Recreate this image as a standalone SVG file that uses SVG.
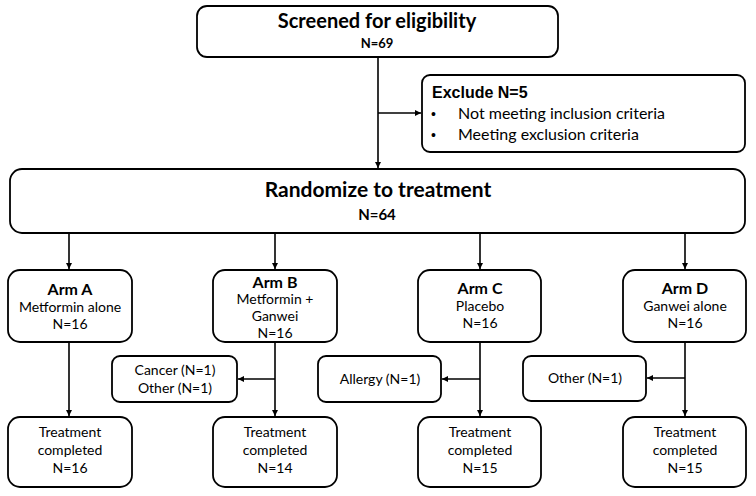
<svg xmlns="http://www.w3.org/2000/svg" width="756" height="496" viewBox="0 0 756 496">
<defs>
<marker id="ah" viewBox="0 0 10 10" refX="10" refY="5" markerWidth="6" markerHeight="6" markerUnits="userSpaceOnUse" orient="auto">
<path d="M0,0 L10,5 L0,10 z" fill="#000"/>
</marker>
<style>
.box{fill:#fff;stroke:#000;stroke-width:1.8}
.ln{fill:none;stroke:#000;stroke-width:1.6}
text{font-family:Lato,"Open Sans",sans-serif;fill:#000;text-anchor:middle}
.t{font-size:14px}
.b{font-size:16px;font-weight:bold}
.big{font-size:20px;font-weight:bold}
.n{font-size:13px;font-weight:bold}
.ar{font-family:"Liberation Sans",Arial,sans-serif;text-anchor:start}
.l{font-size:16px;text-anchor:start}
</style>
</defs>
<g id="connectors">
<path class="ln" d="M378,57 V168" marker-end="url(#ah)"/>
<path class="ln" d="M378,113 H421" marker-end="url(#ah)"/>
<path class="ln" d="M69,233 V269" marker-end="url(#ah)"/>
<path class="ln" d="M275,233 V269" marker-end="url(#ah)"/>
<path class="ln" d="M480,233 V269" marker-end="url(#ah)"/>
<path class="ln" d="M685,233 V269" marker-end="url(#ah)"/>
<path class="ln" d="M69,342 V416" marker-end="url(#ah)"/>
<path class="ln" d="M275,342 V416" marker-end="url(#ah)"/>
<path class="ln" d="M480,342 V416" marker-end="url(#ah)"/>
<path class="ln" d="M685,342 V416" marker-end="url(#ah)"/>
<path class="ln" d="M275,379 H238" marker-end="url(#ah)"/>
<path class="ln" d="M480,379 H442" marker-end="url(#ah)"/>
<path class="ln" d="M685,378 H647" marker-end="url(#ah)"/>
</g>
<g id="screened">
<rect class="box" x="197" y="6" width="361" height="51" rx="10"/>
<text class="big" x="377" y="28">Screened for eligibility</text>
<text class="n" x="377" y="48">N=69</text>
</g>
<g id="exclude">
<rect class="box" x="422" y="75" width="323" height="77" rx="8"/>
<text class="ar" x="432" y="98" font-size="16" font-weight="bold">Exclude N=5</text>
<text class="ar" x="431" y="119" font-size="14">•</text>
<text class="ar" x="431" y="140" font-size="14">•</text>
<text class="l" x="458" y="119">Not meeting inclusion criteria</text>
<text class="l" x="458" y="140">Meeting exclusion criteria</text>
</g>
<g id="randomize">
<rect class="box" x="10" y="169" width="735" height="64" rx="12"/>
<text class="big" x="378" y="197" style="font-size:21px">Randomize to treatment</text>
<text class="n" x="377" y="220" style="font-size:15px">N=64</text>
</g>
<g id="armA">
<rect class="box" x="8" y="270" width="124" height="72" rx="12"/>
<text class="b" x="70" y="295">Arm A</text>
<text class="t" x="70" y="312">Metformin alone</text>
<text class="t" x="70" y="329">N=16</text>
</g>
<g id="armB">
<rect class="box" x="213" y="270" width="124" height="72" rx="12"/>
<text class="b" x="275" y="288">Arm B</text>
<text class="t" x="275" y="304">Metformin +</text>
<text class="t" x="275" y="321">Ganwei</text>
<text class="t" x="275" y="338">N=16</text>
</g>
<g id="armC">
<rect class="box" x="418" y="270" width="123" height="72" rx="12"/>
<text class="b" x="480" y="294">Arm C</text>
<text class="t" x="480" y="311">Placebo</text>
<text class="t" x="480" y="328">N=16</text>
</g>
<g id="armD">
<rect class="box" x="623" y="270" width="123" height="72" rx="12"/>
<text class="b" x="685" y="294">Arm D</text>
<text class="t" x="685" y="311">Ganwei alone</text>
<text class="t" x="685" y="328">N=16</text>
</g>
<g id="excludeB">
<rect class="box" x="112" y="356" width="125" height="46" rx="8"/>
<text class="t" x="175" y="375">Cancer (N=1)</text>
<text class="t" x="175" y="393">Other (N=1)</text>
</g>
<g id="excludeC">
<rect class="box" x="318" y="356" width="123" height="46" rx="8"/>
<text class="t" x="380" y="384">Allergy (N=1)</text>
</g>
<g id="excludeD">
<rect class="box" x="523" y="356" width="123" height="45" rx="8"/>
<text class="t" x="585" y="383">Other (N=1)</text>
</g>
<g id="doneA">
<rect class="box" x="8" y="417" width="124" height="70" rx="12"/>
<text class="t" x="70" y="437">Treatment</text>
<text class="t" x="70" y="455">completed</text>
<text class="t" x="70" y="473">N=16</text>
</g>
<g id="doneB">
<rect class="box" x="213" y="417" width="124" height="70" rx="12"/>
<text class="t" x="275" y="437">Treatment</text>
<text class="t" x="275" y="455">completed</text>
<text class="t" x="275" y="473">N=14</text>
</g>
<g id="doneC">
<rect class="box" x="418" y="417" width="123" height="70" rx="12"/>
<text class="t" x="480" y="437">Treatment</text>
<text class="t" x="480" y="455">completed</text>
<text class="t" x="480" y="473">N=15</text>
</g>
<g id="doneD">
<rect class="box" x="623" y="417" width="123" height="70" rx="12"/>
<text class="t" x="685" y="437">Treatment</text>
<text class="t" x="685" y="455">completed</text>
<text class="t" x="685" y="473">N=15</text>
</g>
</svg>
